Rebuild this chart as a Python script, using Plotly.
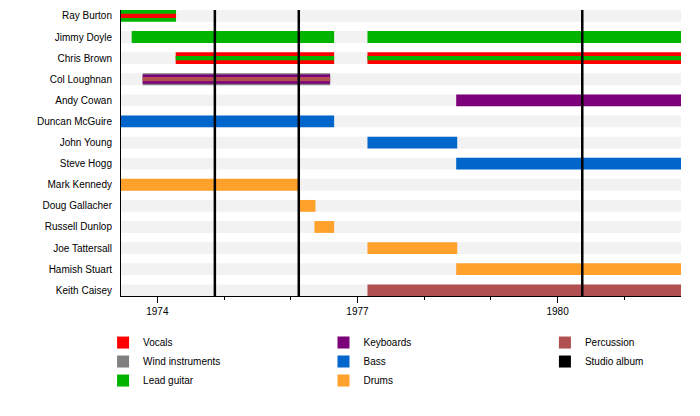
import plotly.graph_objects as go

# band members, top to bottom
members = ["Ray Burton", "Jimmy Doyle", "Chris Brown", "Col Loughnan", "Andy Cowan",
           "Duncan McGuire", "John Young", "Steve Hogg", "Mark Kennedy", "Doug Gallacher",
           "Russell Dunlop", "Joe Tattersall", "Hamish Stuart", "Keith Caisey"]

timeline_start = 1973.455
timeline_end = 1981.85

# main role spans (decimal years)
main_member = ["Ray Burton", "Jimmy Doyle", "Jimmy Doyle", "Chris Brown", "Chris Brown",
               "Col Loughnan", "Andy Cowan", "Duncan McGuire", "John Young", "Steve Hogg",
               "Mark Kennedy", "Doug Gallacher", "Russell Dunlop", "Joe Tattersall",
               "Hamish Stuart", "Keith Caisey"]
main_role = ["Lead guitar", "Lead guitar", "Lead guitar", "Vocals", "Vocals",
             "Wind instruments", "Keyboards", "Bass", "Bass", "Bass",
             "Drums", "Drums", "Drums", "Drums", "Drums", "Percussion"]
main_start = [1973.455, 1973.615, 1977.15, 1974.275, 1977.15,
              1973.78, 1978.48, 1973.455, 1977.15, 1978.48,
              1973.455, 1976.11, 1976.355, 1977.15, 1978.48, 1977.15]
main_end = [1974.28, 1976.65, 1981.85, 1976.65, 1981.85,
            1976.59, 1981.85, 1976.65, 1978.495, 1981.85,
            1976.13, 1976.37, 1976.65, 1978.495, 1981.85, 1981.85]

# second role (medium stripe)
second_member = ["Col Loughnan"]
second_role = ["Keyboards"]
second_start = [1973.78]
second_end = [1976.59]

# third role (thin stripe)
third_member = ["Ray Burton", "Chris Brown", "Chris Brown", "Col Loughnan"]
third_role = ["Vocals", "Lead guitar", "Lead guitar", "Percussion"]
third_start = [1973.455, 1974.275, 1977.15, 1973.78]
third_end = [1974.28, 1976.65, 1981.85, 1976.59]

album_dates = [1974.862, 1976.12, 1980.37]

major_years = [1974, 1977, 1980]
minor_years = [1974, 1975, 1976, 1977, 1978, 1979, 1980, 1981]

role_colors = {
    "Vocals": "#ff0000",
    "Wind instruments": "#808080",
    "Lead guitar": "#00b400",
    "Keyboards": "#7d007b",
    "Bass": "#0066cc",
    "Drums": "#ffa12a",
    "Percussion": "#b05050",
}
legend_of = {
    "Vocals": "legend", "Wind instruments": "legend", "Lead guitar": "legend",
    "Keyboards": "legend2", "Bass": "legend2", "Drums": "legend2",
    "Percussion": "legend3",
}

row = {m: i for i, m in enumerate(members)}
fig = go.Figure()

# light row stripes
fig.add_trace(go.Bar(
    y=list(range(len(members))),
    x=[timeline_end - timeline_start] * len(members),
    base=timeline_start, orientation="h", width=0.56,
    marker=dict(color="#f2f2f2", line=dict(width=0)),
    showlegend=False, hoverinfo="skip",
))


def add_spans(mem, role, start, end, width, legend):
    for r in role_colors:
        idx = [i for i, rr in enumerate(role) if rr == r]
        if not idx:
            continue
        fig.add_trace(go.Bar(
            y=[row[mem[i]] for i in idx],
            x=[end[i] - start[i] for i in idx],
            base=[start[i] for i in idx],
            orientation="h", width=width,
            marker=dict(color=role_colors[r], line=dict(width=0)),
            name=r, legendgroup=r, legend=legend_of[r],
            showlegend=legend,
        ))


add_spans(main_member, main_role, main_start, main_end, 0.56, True)
add_spans(second_member, second_role, second_start, second_end, 0.44, False)
add_spans(third_member, third_role, third_start, third_end, 0.2, False)

# legend entry for albums
fig.add_trace(go.Bar(
    y=[None], x=[None], orientation="h",
    marker=dict(color="#000000", line=dict(width=0)),
    name="Studio album", legend="legend3",
))

for d in album_dates:
    fig.add_shape(type="line", xref="x", yref="paper", x0=d, x1=d, y0=0, y1=1,
                  line=dict(color="black", width=2.5))

leg = dict(yanchor="top", y=-0.112, xanchor="left", bgcolor="rgba(0,0,0,0)",
           font=dict(size=10, color="black"), traceorder="normal")

fig.update_layout(
    width=700, height=416,
    barmode="overlay",
    margin=dict(l=113, r=27, t=2, b=128),
    plot_bgcolor="white", paper_bgcolor="white",
    font=dict(family="Liberation Sans, Arial, sans-serif", size=10, color="black"),
    xaxis=dict(
        range=[timeline_start, timeline_end], showgrid=False, zeroline=False,
        tickmode="array", tickvals=major_years, ticktext=[str(y) for y in major_years],
        ticks="outside", ticklen=6, tickcolor="black",
        minor=dict(tickmode="array", tickvals=minor_years, ticks="outside", ticklen=3,
                   tickcolor="black", showgrid=False),
        showline=True, linecolor="black", linewidth=1,
    ),
    yaxis=dict(
        range=[13.27, -0.28], showgrid=False, zeroline=False,
        tickmode="array", tickvals=list(range(len(members))), ticktext=members,
        ticks="", ticklabelstandoff=6,
        showline=True, linecolor="black", linewidth=1,
    ),
    legend=dict(leg, x=-0.032),
    legend2=dict(leg, x=0.3616),
    legend3=dict(leg, x=0.757),
)

fig.write_html("out.html")
